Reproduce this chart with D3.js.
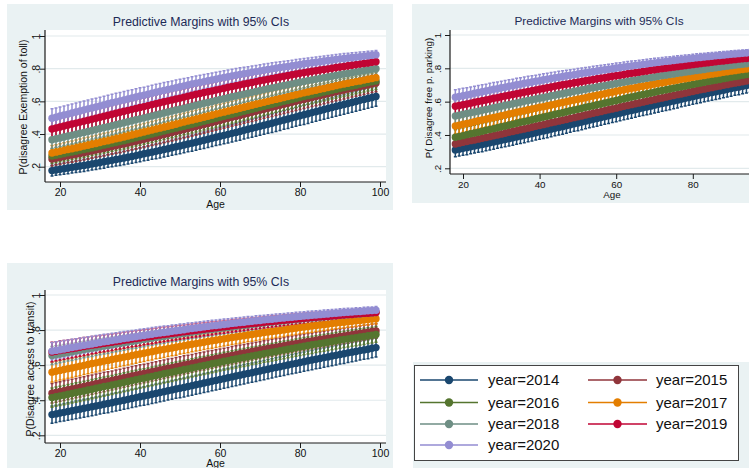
<!DOCTYPE html>
<html>
<head>
<meta charset="utf-8">
<script src="https://cdn.jsdelivr.net/npm/d3@7"></script>
<style>
  html, body { margin: 0; padding: 0; background: #ffffff; }
  svg { display: block; font-family: "Liberation Sans", Arial, Helvetica, sans-serif; }
</style>
</head>
<body>
<svg id="chart" width="749" height="468"></svg>
<script>
// ---------------------------------------------------------------------------
// Predictive margins (probability x 1000) by age, one array per survey year,
// with the half-width of the 95% confidence interval (also x 1000).
// ---------------------------------------------------------------------------
const ages = [18,19,20,21,22,23,24,25,26,27,28,29,30,31,32,33,34,35,36,37,38,39,40,41,42,43,44,45,46,47,48,49,50,51,52,53,54,55,56,57,58,59,60,61,62,63,64,65,66,67,68,69,70,71,72,73,74,75,76,77,78,79,80,81,82,83,84,85,86,87,88,89,90,91,92,93,94,95,96,97,98,99];
const years = ["2014", "2015", "2016", "2017", "2018", "2019", "2020"];
const xTicks = [20, 40, 60, 80, 100];
const yTicks = [0.2, 0.4, 0.6, 0.8, 1];

// --- P(disagree Exemption of toll)
const toll2014 = [176,180,184,188,192,196,200,204,208,212,217,221,226,230,235,239,244,248,253,258,263,268,273,279,284,289,294,299,305,310,316,322,327,333,339,344,350,356,362,368,374,380,386,392,398,404,410,416,423,429,435,441,448,454,460,466,473,479,486,492,499,505,512,518,524,531,537,543,550,556,562,569,575,581,587,593,599,606,612,618,624,630];
const toll2015 = [247,252,257,262,267,271,276,281,286,291,296,302,307,312,318,323,328,334,339,345,351,356,362,368,374,379,385,391,397,403,409,415,422,428,434,440,446,452,458,465,471,477,483,490,496,502,508,514,521,527,533,539,546,552,558,564,570,576,582,588,594,600,606,612,618,624,629,635,641,647,652,658,664,669,675,680,685,691,696,701,707,712];
const toll2016 = [265,270,275,280,285,290,295,300,305,310,315,321,326,332,337,343,348,354,359,365,371,377,383,388,394,400,406,412,418,424,430,436,442,448,454,460,466,472,478,484,490,497,503,509,515,521,527,533,539,545,552,558,564,570,576,582,588,594,600,605,611,617,623,629,635,640,646,651,657,662,668,673,679,684,689,694,699,705,710,715,720,725];
const toll2017 = [284,289,294,300,305,310,315,321,326,331,337,342,348,354,359,365,371,376,382,388,394,400,406,412,418,424,430,436,442,448,454,460,467,473,479,485,491,497,503,509,515,522,528,534,540,546,552,558,564,570,576,582,588,594,600,606,612,617,623,629,635,640,646,652,657,663,668,674,679,685,690,696,701,706,711,716,721,725,730,735,740,745];
const toll2018 = [365,371,376,382,388,393,399,405,410,416,422,428,434,440,445,451,457,463,469,475,481,487,493,499,505,511,517,523,529,535,541,547,552,558,564,570,576,582,588,593,599,605,611,616,622,628,633,639,644,650,655,661,666,672,677,682,687,692,697,702,707,712,717,722,727,731,736,740,745,749,754,758,763,767,771,775,779,784,788,792,796,800];
const toll2019 = [431,437,443,449,455,461,467,473,479,485,491,497,503,509,515,521,527,533,539,545,551,557,563,568,574,580,586,592,598,603,609,615,620,626,632,637,643,648,654,659,664,670,675,680,686,691,696,701,706,711,716,721,726,731,736,740,745,749,754,758,763,767,772,776,780,784,788,792,795,799,803,807,811,814,818,821,825,828,832,835,839,842];
const toll2020 = [497,503,510,516,522,529,535,541,548,554,560,566,572,578,585,591,597,603,609,615,621,627,633,638,644,650,656,662,667,673,678,684,689,695,700,706,711,716,721,726,731,736,741,746,751,756,760,765,769,773,778,782,786,791,795,799,803,807,811,814,818,822,826,830,833,837,840,843,847,850,853,857,860,863,866,868,871,874,877,879,882,885];

const tollCi2014 = [33,33,34,34,35,35,36,36,37,37,37,38,38,39,39,40,40,41,41,41,42,42,43,43,44,44,45,45,45,46,46,47,47,48,48,49,49,49,50,50,51,51,52,52,53,53,53,54,54,54,55,55,55,56,56,56,57,57,57,58,58,58,59,59,59,59,59,59,60,60,60,60,60,60,60,60,60,60,60,60,60,60];
const tollCi2015 = [42,42,43,43,43,44,44,44,45,45,45,46,46,46,47,47,47,48,48,48,49,49,49,50,50,50,51,51,51,51,52,52,52,52,53,53,53,53,53,54,54,54,54,55,55,55,55,55,55,55,56,56,56,56,56,56,56,56,56,56,56,56,56,56,56,56,56,56,55,55,55,55,55,55,55,54,54,54,54,53,53,53];
const tollCi2016 = [44,44,45,45,45,46,46,46,47,47,47,48,48,48,49,49,49,50,50,50,50,51,51,51,51,52,52,52,52,52,53,53,53,53,54,54,54,54,54,54,54,55,55,55,55,55,55,55,55,55,55,55,55,55,55,55,55,55,55,55,55,55,55,55,55,55,55,55,54,54,54,54,54,54,54,53,53,53,53,52,52,52];
const tollCi2017 = [46,46,47,47,47,48,48,48,49,49,49,49,50,50,50,50,51,51,51,51,51,52,52,52,52,53,53,53,53,53,53,53,54,54,54,54,54,54,54,54,54,55,55,55,55,55,55,55,55,55,54,54,54,54,54,54,54,54,54,53,53,53,53,53,53,53,53,53,52,52,52,52,52,52,51,51,51,50,50,50,49,49];
const tollCi2018 = [52,52,52,52,52,53,53,53,53,53,53,53,53,53,54,54,54,54,54,54,54,54,54,54,54,54,54,54,54,54,54,54,53,53,53,53,53,53,53,52,52,52,52,51,51,51,51,51,51,51,50,50,50,50,50,50,49,49,49,48,48,48,47,47,47,46,46,46,45,45,45,44,44,44,43,43,43,42,42,42,41,41];
const tollCi2019 = [56,56,56,56,56,55,55,55,55,55,55,55,55,55,54,54,54,54,54,54,54,53,53,53,53,52,52,52,52,51,51,51,50,50,50,49,49,49,49,48,48,48,48,47,47,47,47,46,46,46,45,45,45,44,44,44,43,43,43,42,42,42,41,41,41,40,40,40,39,39,39,38,38,38,37,37,36,36,35,35,34,34];
const tollCi2020 = [57,57,56,56,56,55,55,55,54,54,54,53,53,53,52,52,52,51,51,51,50,50,50,49,49,49,48,48,48,47,47,46,46,45,45,44,44,44,43,43,43,42,42,42,41,41,41,40,40,39,39,38,38,37,37,37,36,36,35,35,34,34,33,33,33,32,32,32,31,31,31,30,30,30,29,29,28,28,27,27,26,26];

// --- P( Disagree free p. parking)
const parking2014 = [310,315,320,324,329,334,339,343,348,353,358,363,368,373,378,383,388,393,398,403,408,414,419,424,429,435,440,445,450,456,461,467,472,478,483,489,494,499,505,510,515,521,526,531,537,542,547,552,558,563,568,573,579,584,589,594,599,604,609,615,620,625,630,635,640,645,650,655,659,664,669,674,679,684,688,693,697,702,706,711,715,720];
const parking2015 = [346,351,356,361,366,370,375,380,385,390,395,400,405,410,416,421,426,431,436,441,446,452,457,462,467,473,478,483,488,493,499,504,509,514,520,525,530,535,540,546,551,556,561,567,572,577,582,587,592,597,602,607,612,617,622,627,632,637,642,646,651,656,661,666,671,675,680,684,689,693,698,702,707,711,715,719,723,728,732,736,740,744];
const parking2016 = [386,391,396,402,407,412,417,423,428,433,438,444,449,454,460,465,470,476,481,486,492,497,502,508,513,518,524,529,534,539,545,550,555,560,566,571,576,581,586,592,597,602,607,613,618,623,628,633,638,643,647,652,657,662,667,672,676,681,685,690,694,699,703,708,712,716,721,725,729,733,738,742,746,750,754,758,762,765,769,773,777,781];
const parking2017 = [454,459,464,469,474,480,485,490,495,500,505,510,515,520,526,531,536,541,546,551,556,561,566,570,575,580,585,590,595,600,605,610,614,619,624,629,634,639,643,648,653,657,662,667,671,676,680,684,689,693,697,701,706,710,714,718,722,726,730,734,738,742,746,750,754,757,761,765,768,772,776,779,783,786,790,793,796,800,803,806,810,813];
const parking2018 = [514,519,524,529,534,538,543,548,553,558,563,568,573,578,582,587,592,597,602,607,611,616,621,625,630,635,639,644,648,653,657,662,666,671,675,680,684,688,692,696,700,705,709,713,717,721,725,729,733,737,740,744,748,752,756,759,763,766,770,773,777,780,784,787,790,793,797,800,803,806,810,813,816,819,822,824,827,830,833,835,838,841];
const parking2019 = [572,577,582,586,591,596,601,605,610,615,620,624,629,634,638,643,648,652,657,661,666,670,675,679,684,688,693,697,701,705,709,713,717,721,725,729,733,737,741,744,748,752,756,759,763,767,770,774,777,781,784,788,791,795,798,801,804,807,810,813,816,819,822,825,828,831,833,836,839,842,844,847,850,852,855,857,859,862,864,866,869,871];
const parking2020 = [626,631,636,640,645,650,655,659,664,669,674,678,683,687,692,696,701,705,710,714,718,722,726,731,735,739,743,747,751,755,758,762,766,770,773,777,781,784,788,791,795,798,802,805,809,812,815,818,821,824,827,830,833,836,839,842,844,847,850,852,855,858,860,863,865,868,870,872,875,877,879,882,884,886,888,890,892,894,896,898,900,902];

const parkingCi2014 = [41,41,41,42,42,42,42,43,43,43,43,43,43,43,44,44,44,44,44,44,44,44,44,45,45,45,45,45,45,45,45,45,46,46,46,46,46,46,46,46,46,46,46,46,46,46,46,46,46,46,47,47,47,47,47,47,47,47,47,46,46,46,46,46,46,46,46,46,46,46,46,46,46,46,46,45,45,45,45,44,44,44];
const parkingCi2015 = [44,44,44,44,44,44,44,44,44,44,44,44,44,44,45,45,45,45,45,45,45,45,45,46,46,46,46,46,46,46,46,46,46,46,46,46,46,46,46,46,46,46,46,46,46,46,46,46,46,46,45,45,45,45,45,45,45,45,45,44,44,44,44,44,44,44,44,44,43,43,43,43,43,43,43,43,43,42,42,42,42,42];
const parkingCi2016 = [46,46,46,46,46,46,46,46,46,46,46,46,46,46,46,46,46,46,46,46,46,46,46,46,46,46,46,46,46,46,46,46,45,45,45,45,45,45,45,45,45,44,44,44,44,44,44,44,44,44,43,43,43,43,43,43,43,42,42,42,42,41,41,41,41,41,41,41,40,40,40,40,40,40,40,39,39,39,39,38,38,38];
const parkingCi2017 = [48,48,48,48,48,47,47,47,47,47,47,47,46,46,46,46,45,45,45,45,45,45,45,44,44,44,44,44,44,44,44,44,43,43,43,43,43,43,43,42,42,42,42,41,41,41,41,41,40,40,40,40,39,39,39,39,39,38,38,38,38,37,37,37,37,37,36,36,36,36,35,35,35,35,35,34,34,34,34,33,33,33];
const parkingCi2018 = [48,48,48,47,47,47,47,46,46,46,46,46,45,45,45,45,44,44,44,44,44,43,43,43,43,42,42,42,42,42,41,41,41,41,40,40,40,40,40,39,39,39,39,38,38,38,38,37,37,37,36,36,36,35,35,35,35,34,34,34,34,33,33,33,33,33,32,32,32,32,31,31,31,31,31,30,30,30,30,29,29,29];
const parkingCi2019 = [47,47,46,46,46,45,45,45,44,44,44,43,43,43,42,42,42,41,41,41,41,40,40,40,40,39,39,39,39,38,38,38,37,37,37,36,36,36,35,35,35,34,34,34,33,33,33,33,32,32,32,32,31,31,31,31,31,30,30,30,30,29,29,29,29,29,28,28,28,28,27,27,27,27,27,26,26,26,26,25,25,25];
const parkingCi2020 = [45,45,44,44,43,43,42,42,41,41,41,40,40,40,39,39,39,38,38,38,37,37,37,36,36,36,35,35,35,34,34,33,33,32,32,31,31,31,31,30,30,30,30,29,29,29,29,28,28,28,27,27,27,26,26,26,26,25,25,25,25,24,24,24,24,23,23,23,22,22,22,21,21,21,21,20,20,20,20,19,19,19];

// --- P(Disagree access to transit)
const transit2014 = [318,322,327,331,336,340,345,349,354,358,363,367,372,377,381,386,391,395,400,405,410,415,420,424,429,434,439,444,449,454,459,464,468,473,478,483,488,493,498,503,508,513,518,523,528,533,538,543,548,553,557,562,567,572,577,582,587,591,596,601,606,610,615,620,625,629,634,638,643,647,652,656,661,665,670,674,678,683,687,691,696,700];
const transit2015 = [440,445,450,455,460,464,469,474,479,484,489,494,499,504,508,513,518,523,528,533,538,543,548,552,557,562,567,572,577,582,586,591,596,601,605,610,615,620,624,629,633,638,642,647,651,656,660,665,669,673,678,682,686,691,695,699,703,707,711,715,719,723,727,731,735,738,742,746,749,753,757,760,764,767,771,774,778,781,785,788,792,795];
const transit2016 = [415,420,425,429,434,439,444,448,453,458,463,468,473,478,482,487,492,497,502,507,512,517,522,526,531,536,541,546,551,556,560,565,570,575,579,584,589,594,598,603,608,612,617,622,626,631,635,640,644,648,653,657,661,666,670,674,678,683,687,691,695,700,704,708,712,716,720,724,727,731,735,739,743,747,750,754,757,761,764,768,771,775];
const transit2017 = [560,565,570,575,580,584,589,594,599,604,609,613,618,623,627,632,637,641,646,650,655,659,664,668,673,677,682,686,690,694,698,702,707,711,715,719,723,727,731,735,739,742,746,750,754,758,761,765,768,772,775,779,782,786,789,792,795,798,801,805,808,811,814,817,820,823,826,829,831,834,837,840,843,845,848,850,853,855,858,860,863,865];
const transit2018 = [655,659,663,668,672,676,680,685,689,693,697,701,705,709,712,716,720,724,728,732,735,739,743,746,750,754,757,761,764,768,771,774,778,781,784,788,791,794,797,800,803,806,809,812,815,818,821,824,826,829,832,835,837,840,843,845,848,850,852,855,857,859,862,864,866,868,870,872,875,877,879,881,883,885,887,889,891,892,894,896,898,900];
const transit2019 = [675,679,683,687,691,694,698,702,706,710,714,717,721,724,728,731,735,738,742,745,749,752,755,759,762,765,769,772,775,778,781,784,787,790,793,796,799,802,805,807,810,813,816,818,821,824,827,829,832,834,837,839,842,844,847,849,851,854,856,858,860,863,865,867,869,871,873,875,876,878,880,882,884,886,888,889,891,893,895,896,898,900];
const transit2020 = [680,684,688,692,696,701,705,709,713,717,721,725,729,733,736,740,744,748,752,755,759,762,766,769,773,776,780,783,786,789,793,796,799,802,806,809,812,815,818,821,824,826,829,832,835,838,840,843,845,848,850,853,855,858,860,862,864,867,869,871,873,876,878,880,882,884,886,888,890,892,894,896,898,900,901,903,905,906,908,910,911,913];

const transitCi2014 = [49,49,49,50,50,50,50,51,51,51,51,51,51,51,52,52,52,52,52,52,52,52,52,53,53,53,53,53,53,53,53,53,54,54,54,54,54,54,54,54,54,55,55,55,55,55,55,55,55,55,55,55,55,55,55,55,55,55,55,55,55,55,55,55,55,55,55,55,55,55,55,55,55,55,55,55,55,54,54,54,54,54];
const transitCi2015 = [56,56,56,56,56,55,55,55,55,55,55,55,55,55,54,54,54,54,54,54,54,54,54,53,53,53,53,53,53,53,52,52,52,52,51,51,51,51,51,51,51,50,50,50,50,50,50,50,49,49,49,49,48,48,48,48,48,47,47,47,47,46,46,46,46,46,45,45,45,45,44,44,44,44,44,43,43,43,43,42,42,42];
const transitCi2016 = [55,55,55,55,55,55,55,55,55,55,55,55,55,55,54,54,54,54,54,54,54,54,54,53,53,53,53,53,53,53,53,53,52,52,52,52,52,52,52,52,52,51,51,51,51,51,51,51,51,51,50,50,50,50,50,50,50,50,50,49,49,49,49,49,49,49,48,48,48,48,47,47,47,47,47,46,46,46,46,45,45,45];
const transitCi2017 = [56,56,55,55,55,54,54,54,53,53,53,52,52,51,51,50,50,49,49,49,48,48,48,47,47,47,46,46,46,45,45,45,44,44,44,43,43,43,42,42,42,41,41,41,40,40,40,40,39,39,39,39,38,38,38,38,37,37,37,36,36,36,35,35,35,35,34,34,34,34,33,33,33,33,32,32,32,31,31,31,30,30];
const transitCi2018 = [51,51,50,50,49,49,48,48,47,47,47,46,46,45,45,44,44,43,43,43,42,42,41,41,40,40,39,39,39,38,38,38,37,37,37,36,36,36,35,35,35,34,34,34,33,33,33,32,32,32,31,31,31,30,30,30,30,29,29,29,29,28,28,28,28,27,27,27,26,26,26,25,25,25,25,24,24,24,24,23,23,23];
const transitCi2019 = [55,54,54,53,53,52,52,51,51,50,49,49,48,48,47,47,46,46,45,45,44,44,44,43,43,43,42,42,42,41,41,40,40,39,39,38,38,38,37,37,37,36,36,36,35,35,35,34,34,34,33,33,33,32,32,32,32,31,31,31,31,30,30,30,30,30,29,29,29,29,28,28,28,28,28,27,27,27,27,26,26,26];
const transitCi2020 = [49,49,48,48,47,47,46,46,45,45,44,44,43,43,42,42,41,41,40,40,39,39,39,38,38,38,37,37,37,36,36,35,35,34,34,33,33,33,32,32,32,31,31,31,30,30,30,29,29,29,28,28,28,27,27,27,27,26,26,26,26,25,25,25,25,25,24,24,24,24,23,23,23,23,23,22,22,22,22,21,21,21];

// ---------------------------------------------------------------------------
// Styling and layout
// ---------------------------------------------------------------------------
const colors = ["#1a476f", "#90353b", "#55752f", "#e37e00", "#6e8e84", "#c10534", "#938dd2"];
const regionFill = "#eaf2f3";
const gridColor = "#e2eaec";
const axisColor = "#1a1a1a";
const titleColor = "#1c2a56";
const titleText = "Predictive Margins with 95% CIs";
const canvasWidth = 749;

const panels = [
  {
    yLabel: "P(disagree Exemption of toll)",
    margins: [toll2014, toll2015, toll2016, toll2017, toll2018, toll2019, toll2020],
    ci: [tollCi2014, tollCi2015, tollCi2016, tollCi2017, tollCi2018, tollCi2019, tollCi2020],
    region: { x: 7, y: 4, w: 386, h: 206 },
    plot: { left: 45, right: 386, top: 30, bottom: 182 },
    xRange: [60, 380], yRange: [166.7, 36],
    title: { x: 201, y: 25.5, size: 12.3 },
    font: 10.5, yTickX: 39.5, yTitle: { x: 27, y: 107 }, xTitle: { x: 215.5, y: 208 }
  },
  {
    yLabel: "P( Disagree free p. parking)",
    margins: [parking2014, parking2015, parking2016, parking2017, parking2018, parking2019, parking2020],
    ci: [parkingCi2014, parkingCi2015, parkingCi2016, parkingCi2017, parkingCi2018, parkingCi2019, parkingCi2020],
    region: { x: 412, y: 4, w: 400, h: 199 },
    plot: { left: 450, right: 776, top: 30, bottom: 174 },
    xRange: [463, 769.4], yRange: [168.3, 35],
    title: { x: 599, y: 24.5, size: 11.8 },
    font: 9.8, yTickX: 440.5, yTitle: { x: 431.5, y: 98 }, xTitle: { x: 612, y: 198 }
  },
  {
    yLabel: "P(Disagree access to transit)",
    margins: [transit2014, transit2015, transit2016, transit2017, transit2018, transit2019, transit2020],
    ci: [transitCi2014, transitCi2015, transitCi2016, transitCi2017, transitCi2018, transitCi2019, transitCi2020],
    region: { x: 7, y: 263, w: 386, h: 210 },
    plot: { left: 45, right: 386, top: 290, bottom: 443 },
    xRange: [60, 380], yRange: [435.3, 295],
    title: { x: 201, y: 285.5, size: 12.3 },
    font: 10.5, yTickX: 40, yTitle: { x: 33.5, y: 369 }, xTitle: { x: 215.5, y: 466.5 }
  }
];

const svg = d3.select("#chart");
const fmtProb = v => (v === 1 ? "1" : d3.format(".1f")(v).replace(/^0/, ""));

function drawPanel(p) {
  const g = svg.append("g");
  const pl = p.plot;

  g.append("rect")
    .attr("x", p.region.x).attr("y", p.region.y)
    .attr("width", p.region.w).attr("height", p.region.h)
    .attr("fill", regionFill);
  g.append("rect")
    .attr("x", pl.left).attr("y", pl.top)
    .attr("width", pl.right - pl.left).attr("height", pl.bottom - pl.top)
    .attr("fill", "#ffffff");

  const x = d3.scaleLinear().domain([20, 100]).range(p.xRange);
  const y = d3.scaleLinear().domain([0.2, 1]).range(p.yRange);

  // horizontal grid lines
  g.append("g").selectAll("line").data(yTicks).join("line")
    .attr("x1", pl.left).attr("x2", pl.right)
    .attr("y1", d => y(d)).attr("y2", d => y(d))
    .attr("stroke", gridColor).attr("stroke-width", 1.2);

  const series = years.map((yr, i) => ages.map((a, k) => ({
    age: a,
    m: p.margins[i][k] / 1000,
    lo: (p.margins[i][k] - p.ci[i][k]) / 1000,
    hi: (p.margins[i][k] + p.ci[i][k]) / 1000
  })));

  // confidence intervals (capped spikes) go underneath every series
  const cap = 1.5;
  series.forEach((rows, i) => {
    g.append("g")
      .selectAll("path").data(rows).join("path")
      .attr("d", d => {
        const cx = x(d.age), y0 = y(d.lo), y1 = y(d.hi);
        return `M${cx - cap},${y1}H${cx + cap}M${cx},${y1}V${y0}M${cx - cap},${y0}H${cx + cap}`;
      })
      .attr("fill", "none")
      .attr("stroke", colors[i])
      .attr("stroke-width", 1.5);
  });

  // connected margins
  const line = d3.line().x(d => x(d.age)).y(d => y(d.m));
  series.forEach((rows, i) => {
    const s = g.append("g");
    s.append("path").datum(rows)
      .attr("d", line).attr("fill", "none")
      .attr("stroke", colors[i]).attr("stroke-width", 1);
    s.selectAll("circle").data(rows).join("circle")
      .attr("cx", d => x(d.age)).attr("cy", d => y(d.m))
      .attr("r", 3.7).attr("fill", colors[i]);
  });

  // y axis
  const yAxis = g.append("g")
    .attr("transform", `translate(${pl.left},0)`)
    .call(d3.axisLeft(y).tickValues(yTicks).tickSize(5).tickSizeOuter(0).tickFormat(fmtProb));
  yAxis.select(".domain").remove();
  yAxis.selectAll(".tick line").attr("stroke", axisColor);
  yAxis.selectAll(".tick text")
    .attr("transform", "rotate(-90)")
    .attr("x", 0).attr("y", -(pl.left - p.yTickX)).attr("dy", 0)
    .attr("text-anchor", "middle")
    .attr("fill", "#111").attr("font-size", p.font).attr("font-family", null);
  g.append("line")
    .attr("x1", pl.left).attr("x2", pl.left)
    .attr("y1", pl.top).attr("y2", pl.bottom)
    .attr("stroke", axisColor).attr("stroke-width", 1.2);

  // x axis (only the ticks that fall on the canvas)
  const xAxis = g.append("g")
    .attr("transform", `translate(0,${pl.bottom})`)
    .call(d3.axisBottom(x).tickValues(xTicks.filter(t => x(t) < canvasWidth))
      .tickSize(5).tickSizeOuter(0).tickPadding(2));
  xAxis.select(".domain").remove();
  xAxis.selectAll(".tick line").attr("stroke", axisColor);
  xAxis.selectAll(".tick text")
    .attr("fill", "#111").attr("font-size", p.font).attr("font-family", null);
  g.append("line")
    .attr("x1", pl.left).attr("x2", pl.right)
    .attr("y1", pl.bottom).attr("y2", pl.bottom)
    .attr("stroke", axisColor).attr("stroke-width", 1.2);

  // titles
  g.append("text")
    .attr("x", p.title.x).attr("y", p.title.y)
    .attr("text-anchor", "middle").attr("font-size", p.title.size)
    .attr("fill", titleColor).text(titleText);
  g.append("text")
    .attr("x", p.xTitle.x).attr("y", p.xTitle.y)
    .attr("text-anchor", "middle").attr("font-size", p.font)
    .attr("fill", "#111").text("Age");
  g.append("text")
    .attr("transform", `translate(${p.yTitle.x},${p.yTitle.y}) rotate(-90)`)
    .attr("text-anchor", "middle").attr("font-size", p.font)
    .attr("fill", "#111").text(p.yLabel);
}

panels.forEach(drawPanel);

// ---------------------------------------------------------------------------
// Legend
// ---------------------------------------------------------------------------
const legend = svg.append("g");
legend.append("rect")
  .attr("x", 413).attr("y", 362).attr("width", 340).attr("height", 110)
  .attr("fill", regionFill);
legend.append("rect")
  .attr("x", 414.5).attr("y", 365.5).attr("width", 324).attr("height", 95)
  .attr("fill", "#ffffff").attr("stroke", "#444").attr("stroke-width", 1);

const legendCols = [{ x0: 420, x1: 478, text: 488 }, { x0: 588, x1: 647, text: 656 }];
const legendRows = [380, 402.5, 424, 445];
const items = legend.selectAll("g.item").data(years).join("g")
  .attr("class", "item")
  .attr("transform", (d, i) => `translate(0,${legendRows[Math.floor(i / 2)]})`);
items.append("line")
  .attr("x1", (d, i) => legendCols[i % 2].x0)
  .attr("x2", (d, i) => legendCols[i % 2].x1)
  .attr("y1", 0).attr("y2", 0)
  .attr("stroke", (d, i) => colors[i]).attr("stroke-width", 1.4);
items.append("circle")
  .attr("cx", (d, i) => (legendCols[i % 2].x0 + legendCols[i % 2].x1) / 2)
  .attr("cy", 0).attr("r", 4.2)
  .attr("fill", (d, i) => colors[i]);
items.append("text")
  .attr("x", (d, i) => legendCols[i % 2].text)
  .attr("y", 5.3)
  .attr("font-size", 15).attr("fill", "#111")
  .text(d => `year=${d}`);
</script>
</body>
</html>
